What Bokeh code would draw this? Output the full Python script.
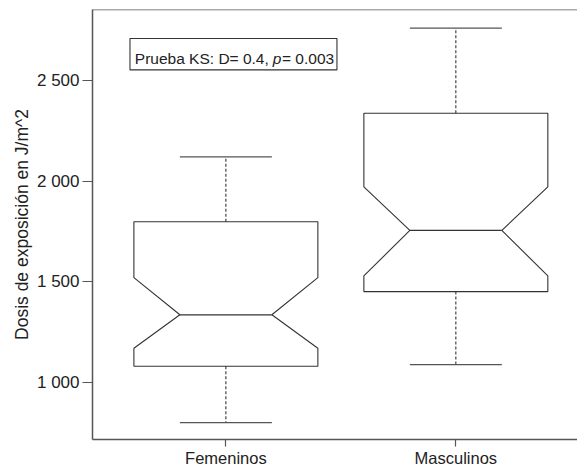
from bokeh.plotting import figure
from bokeh.models import Range1d, FixedTicker, Span, BoxAnnotation, Label, Title
from bokeh.embed import file_html
from bokeh.resources import INLINE

# ---- data ----
groups = ["Femeninos", "Masculinos"]
whisker_low = [803, 1090]
q1 = [1082, 1452]
notch_low = [1171, 1530]
median = [1337, 1755]
notch_high = [1521, 1971]
q3 = [1798, 2336]
whisker_high = [2120, 2758]

y_ticks = [1000, 1500, 2000, 2500]
y_tick_labels = ["1 000", "1 500", "2 000", "2 500"]

ks_text = ["Prueba KS: D= 0.4,", "p", "= 0.003"]
y_title = "Dosis de exposición en J/m^2"

# ---- style ----
FONT = "Liberation Sans"
BOX_HALF = 0.4
NOTCH_HALF = 0.2
CAP_HALF = 0.2
LINE_COL = "#333333"
AXIS_COL = "#555555"
TEXT_COL = "#222222"
Y0, Y1 = 719, 2850

p = figure(width=577, height=469,
           x_range=Range1d(0.42, 2.529), y_range=Range1d(Y0, Y1),
           output_backend="svg", toolbar_location=None,
           min_border_left=92, min_border_top=9, min_border_right=0, min_border_bottom=28)
p.outline_line_color = None
p.grid.visible = False
p.background_fill_color = "white"
p.border_fill_color = "white"

xs_pos = [i + 1 for i in range(len(groups))]

# notched boxes
patch_xs, patch_ys = [], []
for i, x in enumerate(xs_pos):
    l, r = x - BOX_HALF, x + BOX_HALF
    nl, nr = x - NOTCH_HALF, x + NOTCH_HALF
    patch_xs.append([l, l, nl, l, l, r, r, nr, r, r])
    patch_ys.append([q1[i], notch_low[i], median[i], notch_high[i], q3[i],
                     q3[i], notch_high[i], median[i], notch_low[i], q1[i]])
p.patches(patch_xs, patch_ys, fill_color="white", line_color=LINE_COL, line_width=1.1)

# medians
p.segment(x0=[x - NOTCH_HALF for x in xs_pos], x1=[x + NOTCH_HALF for x in xs_pos],
          y0=median, y1=median, line_color=LINE_COL, line_width=1.3)

# whiskers (dashed)
p.segment(x0=xs_pos, x1=xs_pos, y0=q3, y1=whisker_high, line_color=LINE_COL,
          line_width=1.1, line_dash="3 2")
p.segment(x0=xs_pos, x1=xs_pos, y0=q1, y1=whisker_low, line_color=LINE_COL,
          line_width=1.1, line_dash="3 2")
# caps
p.segment(x0=[x - CAP_HALF for x in xs_pos], x1=[x + CAP_HALF for x in xs_pos],
          y0=whisker_high, y1=whisker_high, line_color=AXIS_COL, line_width=1.3)
p.segment(x0=[x - CAP_HALF for x in xs_pos], x1=[x + CAP_HALF for x in xs_pos],
          y0=whisker_low, y1=whisker_low, line_color=AXIS_COL, line_width=1.3)

# top border of the frame
p.add_layout(Span(location=Y1, dimension="width", line_color=AXIS_COL, line_width=1.5))

# annotation box
p.add_layout(BoxAnnotation(left=0.583, right=1.483, bottom=2551, top=2706,
                           fill_color="white", fill_alpha=1.0,
                           line_color=LINE_COL, line_alpha=1.0, line_width=1.1))
label_x = [0.604, 1.204, 1.244]
styles = ["normal", "italic", "normal"]
for t, lx, st in zip(ks_text, label_x, styles):
    p.add_layout(Label(x=lx, y=2607, text=t, text_font=FONT, text_font_size="15.5px",
                       text_font_style=st, text_color=TEXT_COL, text_baseline="alphabetic"))

# y-axis title (shifted up a little, as in the reference)
p.add_layout(Title(text=y_title, align="center", offset=13, standoff=4,
                   text_font=FONT, text_font_size="17.5px", text_font_style="normal",
                   text_color=TEXT_COL), "left")

# axes
p.xaxis.ticker = FixedTicker(ticks=xs_pos)
p.xaxis.major_label_overrides = {x: g for x, g in zip(xs_pos, groups)}
p.yaxis.ticker = FixedTicker(ticks=y_ticks)
p.yaxis.major_label_overrides = {t: s for t, s in zip(y_ticks, y_tick_labels)}

for ax in (p.xaxis, p.yaxis):
    ax.axis_line_color = AXIS_COL
    ax.axis_line_width = 1.5
    ax.major_tick_line_color = AXIS_COL
    ax.major_tick_line_width = 1.2
    ax.major_tick_in = 0
    ax.minor_tick_line_color = None
    ax.major_label_text_font = FONT
    ax.major_label_text_color = TEXT_COL

p.yaxis.major_tick_out = 10
p.xaxis.major_tick_out = 7
p.yaxis.major_label_text_font_size = "17px"
p.xaxis.major_label_text_font_size = "16.5px"
p.yaxis.major_label_standoff = 3
p.xaxis.major_label_standoff = 2

open("out.html", "w").write(file_html(p, INLINE))
